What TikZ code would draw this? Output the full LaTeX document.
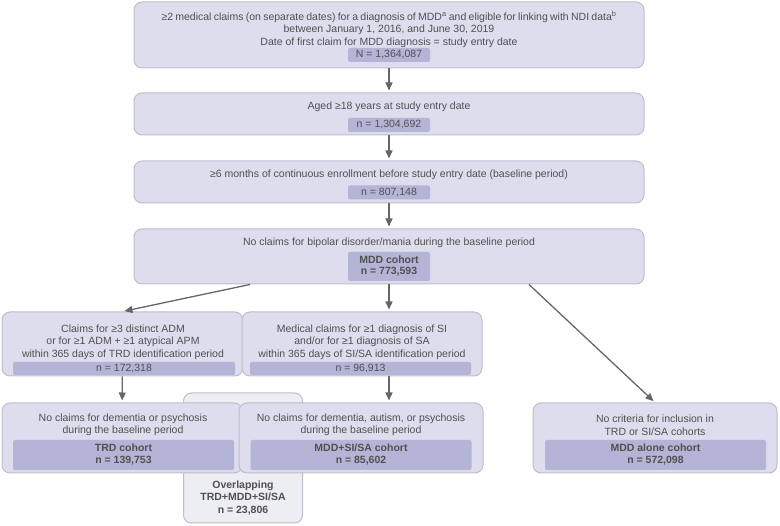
\documentclass[tikz,border=0pt]{standalone}
\usepackage{fontspec}
\setmainfont{Liberation Sans}
\usetikzlibrary{arrows.meta,calc}
\definecolor{boxfill}{HTML}{DDDDEE}
\definecolor{boxline}{HTML}{BDBDCB}
\definecolor{countfill}{HTML}{B4B4D7}
\definecolor{overfill}{HTML}{EDEDF4}
\definecolor{txtgrey}{HTML}{505050}
\definecolor{arrgrey}{HTML}{666666}

\begin{document}
\begin{tikzpicture}[x=1pt,y=-1pt]
        \tikzset{>={Triangle[width=7pt,length=8pt]}}
        \tikzstyle{outer}=[draw=boxline,fill=boxfill,line width=1pt,rounded corners=8pt,inner sep=0pt]
        \tikzstyle{count}=[fill=countfill,rounded corners=2pt,inner sep=0pt,text=txtgrey,align=center,font=\fontsize{10.5}{12}\selectfont]
        \tikzstyle{txt}=[text=txtgrey,align=center,inner sep=0pt,font=\fontsize{10.5}{12.5}\selectfont]
        \tikzstyle{link}=[->,draw=arrgrey,line width=1.3pt,shorten >=2pt]

        \useasboundingbox (0,0) rectangle (780,526);

        % boxes
        \node[outer,fill=overfill,minimum width=119pt,minimum height=130pt] (ov) at (243,458) {};
        \node[outer,minimum width=510pt,minimum height=66pt] (b1) at (389,35) {};
        \node[outer,minimum width=510pt,minimum height=42pt] (b2) at (389,114) {};
        \node[outer,minimum width=510pt,minimum height=42pt] (b3) at (389,182) {};
        \node[outer,minimum width=510pt,minimum height=55pt] (b4) at (389,256.5) {};
        \node[outer,minimum width=241pt,minimum height=64pt] (c1) at (122.5,344) {};
        \node[outer,minimum width=240pt,minimum height=64pt] (c2) at (362,344) {};
        \node[outer,minimum width=240pt,minimum height=70pt] (trd) at (122,438) {};
        \node[outer,minimum width=244pt,minimum height=70pt] (si) at (361,438) {};
        \node[outer,minimum width=244pt,minimum height=70pt] (ma) at (655,438) {};

        % criteria
        \node[txt] (t1) at (389,29) {\makebox[455pt][s]{≥2 medical claims (on separate dates) for a diagnosis of MDD\textsuperscript{a} and eligible for linking with NDI data\textsuperscript{b}}\\between January 1, 2016, and June 30, 2019\\Date of first claim for MDD diagnosis = study entry date};
        \node[txt] (t2) at (389,107) {Aged ≥18 years at study entry date};
        \node[txt] (t3) at (389,175) {≥6 months of continuous enrollment before study entry date (baseline period)};
        \node[txt] (t4) at (389,243) {No claims for bipolar disorder/mania during the baseline period};
        \node[txt] (tc1) at (123,342) {Claims for ≥3 distinct ADM\\or for ≥1 ADM + ≥1 atypical APM\\within 365 days of TRD identification period};
        \node[txt] (tc2) at (362,342) {Medical claims for ≥1 diagnosis of SI\\and/or for ≥1 diagnosis of SA\\within 365 days of SI/SA identification period};
        \node[txt] (ttrd) at (123,425) {No claims for dementia or psychosis\\during the baseline period};
        \node[txt] (tsi) at (361,425) {No claims for dementia, autism, or psychosis\\during the baseline period};
        \node[txt] (tma) at (655,425) {No criteria for inclusion in\\TRD or SI/SA cohorts};
        \node[txt,font=\bfseries\fontsize{10.5}{12.5}\selectfont] (tov) at (243,498) {Overlapping\\TRD+MDD+SI/SA\\n = 23,806};

        % counts
        \node[count,minimum width=82pt,minimum height=14pt] (n1) at (389,55) {N = 1,364,087};
        \node[count,minimum width=82pt,minimum height=14pt] (n2) at (389,125) {n = 1,304,692};
        \node[count,minimum width=82pt,minimum height=14pt] (n3) at (389,192.5) {n = 807,148};
        \node[count,minimum width=82pt,minimum height=29pt,font=\bfseries\fontsize{10.5}{11}\selectfont] (n4) at (389,266.5) {MDD cohort\\n = 773,593};
        \node[count,minimum width=222pt,minimum height=13pt] (nc1) at (124,368.5) {n = 172,318};
        \node[count,minimum width=221pt,minimum height=13pt] (nc2) at (360.5,368.5) {n = 96,913};
        \node[count,minimum width=221pt,minimum height=30pt,font=\bfseries\fontsize{10.5}{12}\selectfont] (ntrd) at (123.5,455) {TRD cohort\\n = 139,753};
        \node[count,minimum width=221pt,minimum height=30pt,font=\bfseries\fontsize{10.5}{12}\selectfont] (nsi) at (361,455) {MDD+SI/SA cohort\\n = 85,602};
        \node[count,minimum width=221pt,minimum height=30pt,font=\bfseries\fontsize{10.5}{12}\selectfont] (nma) at (655.5,455) {MDD alone cohort\\n = 572,098};

        % connectors
        \draw[link] (b1) -- (b2);
        \draw[link] (b2) -- (b3);
        \draw[link] (b3) -- (b4);
        \draw[link] ($(b4.south)+(-139,0)$) -- (c1.north);
        \draw[link] (b4.south) -- (b4.south |- c2.north);
        \draw[link] ($(b4.south)+(140,0)$) -- (ma.north);
        \draw[link] (c1) -- (trd);
        \draw[link] (b4.south |- c2.south) -- (b4.south |- si.north);
\end{tikzpicture}
\end{document}
